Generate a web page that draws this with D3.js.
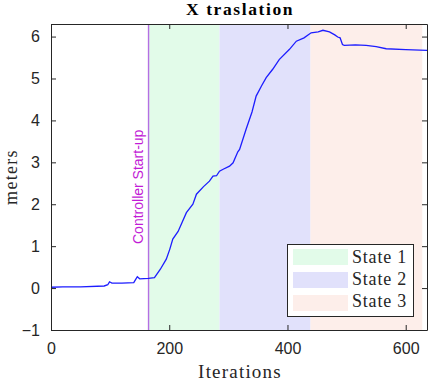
<!DOCTYPE html>
<html>
<head>
<meta charset="utf-8">
<script src="https://cdn.jsdelivr.net/npm/d3@7"></script>
<style>
  body { margin: 0; background: #fff; }
  svg text { fill: #262626; }
</style>
</head>
<body>
<svg id="chart" width="431" height="382"></svg>
<script>
// data
const iterations = [0, 20, 50, 90, 96, 99, 103, 120, 140, 143, 146, 150, 165, 175, 185, 195, 201, 206, 215, 229, 240, 246, 258, 268, 274, 280, 285, 292, 302, 308, 316, 319, 330, 340, 347, 356, 364, 375, 386, 403, 415, 428, 440, 452, 460, 471, 480, 485, 489, 493, 496, 515, 533, 550, 567, 600, 636];
const xMeters  = [0.02, 0.03, 0.03, 0.05, 0.08, 0.15, 0.12, 0.12, 0.13, 0.2, 0.27, 0.22, 0.23, 0.25, 0.45, 0.69, 0.93, 1.17, 1.35, 1.8, 2.0, 2.24, 2.42, 2.55, 2.67, 2.68, 2.79, 2.84, 2.91, 2.99, 3.25, 3.31, 3.79, 4.2, 4.58, 4.82, 5.02, 5.22, 5.45, 5.69, 5.89, 5.97, 6.09, 6.11, 6.15, 6.11, 6.04, 5.99, 5.97, 5.81, 5.79, 5.8, 5.79, 5.76, 5.71, 5.69, 5.67];

const stateNames = ["State 1", "State 2", "State 3"];
const stateStart = [165, 285, 439];
const stateEnd   = [285, 439, 628];
const stateColors = ["#e2fbe9", "#e1e1fb", "#fdeeea"];
const startupIter = 165;

const xTicks = [0, 200, 400, 600];
const yTicks = [-1, 0, 1, 2, 3, 4, 5, 6];

const svg = d3.select("#chart");
const margin = {left: 51, right: 4, top: 24, bottom: 52};
const W = 431, H = 382;

const x = d3.scaleLinear().domain([0, 636]).range([margin.left, W - margin.right]);
const y = d3.scaleLinear().domain([-1, 6.3]).range([H - margin.bottom, margin.top]);

// state bands
svg.selectAll("rect.band")
    .data(stateNames)
    .enter()
    .append("rect")
    .attr("x", (d, i) => x(stateStart[i]))
    .attr("width", (d, i) => x(stateEnd[i]) - x(stateStart[i]))
    .attr("y", y(6.3))
    .attr("height", y(-1) - y(6.3))
    .attr("fill", (d, i) => stateColors[i]);

// controller start-up line
svg.append("line")
    .attr("x1", x(startupIter)).attr("x2", x(startupIter))
    .attr("y1", y(6.3)).attr("y2", y(-1))
    .attr("stroke", "#b46fe3")
    .attr("stroke-width", 1.4);

svg.append("text")
    .attr("transform", "translate(" + (x(startupIter) - 6) + "," + 244 + ") rotate(-90)")
    .attr("font-family", "Liberation Sans, Arial, sans-serif")
    .attr("font-size", "14px")
    .style("fill", "#c21bd6")
    .text("Controller Start-up");

// data line
const line = d3.line()
    .x((d, i) => x(iterations[i]))
    .y(d => y(d));

svg.append("path")
    .datum(xMeters)
    .attr("d", line)
    .attr("fill", "none")
    .attr("stroke", "#1d1dff")
    .attr("stroke-width", 1.3);

// axes
const axisFont = "Liberation Sans, Arial, sans-serif";
const gBottom = svg.append("g")
    .attr("transform", "translate(0," + y(-1) + ")")
    .call(d3.axisBottom(x).tickValues(xTicks).tickSizeInner(-5).tickSizeOuter(0).tickPadding(13));
const gTop = svg.append("g")
    .attr("transform", "translate(0," + y(6.3) + ")")
    .call(d3.axisTop(x).tickValues(xTicks).tickSizeInner(-5).tickSizeOuter(0).tickFormat(""));
const gLeft = svg.append("g")
    .attr("transform", "translate(" + x(0) + ",0)")
    .call(d3.axisLeft(y).tickValues(yTicks).tickSizeInner(-5).tickSizeOuter(0).tickPadding(11));
const gRight = svg.append("g")
    .attr("transform", "translate(" + x(636) + ",0)")
    .call(d3.axisRight(y).tickValues(yTicks).tickSizeInner(-5).tickSizeOuter(0).tickFormat(""));

[gBottom, gTop, gLeft, gRight].forEach(g => {
    g.selectAll("path.domain").attr("stroke", "#262626").attr("stroke-width", 1);
    g.selectAll(".tick line").attr("stroke", "#262626");
    g.selectAll(".tick text")
        .attr("font-family", axisFont)
        .attr("font-size", "16px")
        .style("fill", "#262626");
});

// legend
const legend = svg.append("g");
legend.append("rect")
    .attr("x", 287.5).attr("y", 244.5)
    .attr("width", 126).attr("height", 72)
    .attr("fill", "#fff")
    .attr("stroke", "#262626")
    .attr("stroke-width", 1);

legend.selectAll("rect.sw")
    .data(stateNames)
    .enter()
    .append("rect")
    .attr("x", 293)
    .attr("y", (d, i) => 249 + i * 23)
    .attr("width", 55)
    .attr("height", 16)
    .attr("fill", (d, i) => stateColors[i]);

legend.selectAll("text")
    .data(stateNames)
    .enter()
    .append("text")
    .attr("x", 352)
    .attr("y", (d, i) => 263 + i * 22)
    .attr("font-family", "Liberation Serif, serif")
    .attr("font-size", "18px")
    .attr("letter-spacing", "0.8px")
    .text(d => d);

// titles
svg.append("text")
    .attr("x", 240).attr("y", 15)
    .attr("text-anchor", "middle")
    .attr("font-family", "Liberation Serif, serif")
    .attr("font-weight", "bold")
    .attr("font-size", "17.5px")
    .attr("letter-spacing", "1.6px")
    .style("fill", "#000")
    .text("X traslation");

svg.append("text")
    .attr("x", 240).attr("y", 378)
    .attr("text-anchor", "middle")
    .attr("font-family", "Liberation Serif, serif")
    .attr("font-size", "19px")
    .attr("letter-spacing", "1.2px")
    .text("Iterations");

svg.append("text")
    .attr("transform", "translate(17," + ((y(6.3) + y(-1)) / 2) + ") rotate(-90)")
    .attr("text-anchor", "middle")
    .attr("font-family", "Liberation Serif, serif")
    .attr("font-size", "18px")
    .attr("letter-spacing", "1.3px")
    .text("meters");
</script>
</body>
</html>
